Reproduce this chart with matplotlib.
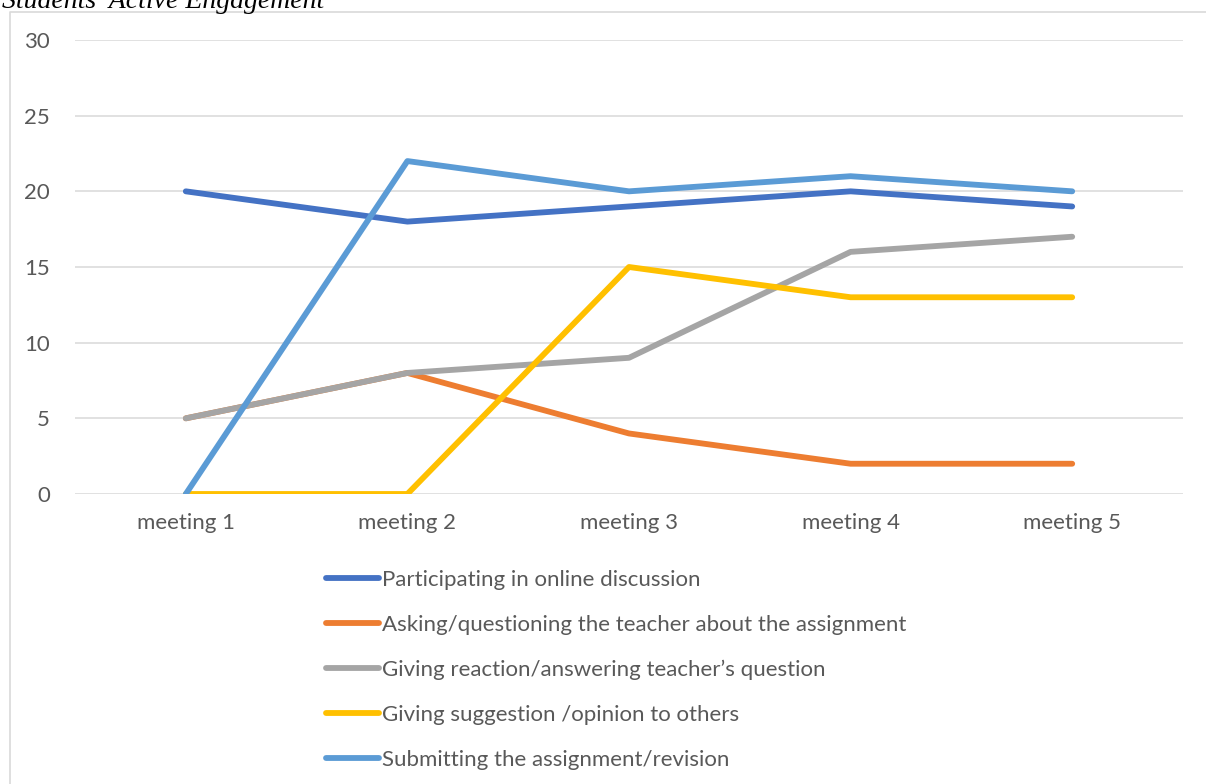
import matplotlib
matplotlib.use('Agg')
import matplotlib.pyplot as plt
from matplotlib.lines import Line2D

# data
meetings = ['meeting 1', 'meeting 2', 'meeting 3', 'meeting 4', 'meeting 5']
participating = [20, 18, 19, 20, 19]
asking = [5, 8, 4, 2, 2]
reaction = [5, 8, 9, 16, 17]
suggestion = [0, 0, 15, 13, 13]
submitting = [0, 22, 20, 21, 20]

series_names = [
    'Participating in online discussion',
    'Asking/questioning the teacher about the assignment',
    'Giving reaction/answering teacher\u2019s question',
    'Giving suggestion /opinion to others',
    'Submitting the assignment/revision',
]
series_values = [participating, asking, reaction, suggestion, submitting]
series_colors = ['#4472C4', '#ED7D31', '#A5A5A5', '#FFC000', '#5B9BD5']

W, H = 1206, 784
plt.rcParams['font.family'] = ['Lato', 'DejaVu Sans']

fig = plt.figure(figsize=(W / 100, H / 100), dpi=100)

# chart frame (only left and top edges visible in the crop)
fig.add_artist(Line2D([10 / W, 10 / W, 1.0], [0.0, 1 - 12 / H, 1 - 12 / H],
                      color='#D9D9D9', lw=1.2, transform=fig.transFigure))

# caption above the frame, cropped at the top like the source
fig.text(2 / W, 1 - 8 / H, 'Students\u2019 Active Engagement', family='Liberation Serif',
         style='italic', fontsize=20, va='baseline', ha='left', color='black')

ax = fig.add_axes([75 / W, 290 / H, (1183 - 75) / W, (494 - 40) / H])
x = list(range(1, len(meetings) + 1))
for name, vals, col in zip(series_names, series_values, series_colors):
    ax.plot(x, vals, color=col, lw=4.2, label=name, solid_capstyle='round',
            solid_joinstyle='round')

ax.set_xlim(0.5, len(meetings) + 0.5)
ax.set_ylim(0, 30)
ax.set_yticks(range(0, 31, 5))
ax.set_xticks(x)
ax.set_xticklabels(meetings)
ax.yaxis.grid(True, color='#D9D9D9', lw=1.1)
ax.set_axisbelow(True)
for s in ax.spines.values():
    s.set_visible(False)
ax.tick_params(axis='both', length=0, labelsize=16, labelcolor='#595959')
ax.tick_params(axis='y', pad=18)
ax.tick_params(axis='x', pad=14)

handles, labels = ax.get_legend_handles_labels()
leg = fig.legend(handles, labels, loc='upper left', bbox_to_anchor=(317 / W, 1 - 561 / H),
                 frameon=False, fontsize=16, handlelength=2.4, handletextpad=0.14,
                 labelspacing=1.12, borderaxespad=0)
for t in leg.get_texts():
    t.set_color('#595959')

fig.savefig('out.png', dpi=100)
